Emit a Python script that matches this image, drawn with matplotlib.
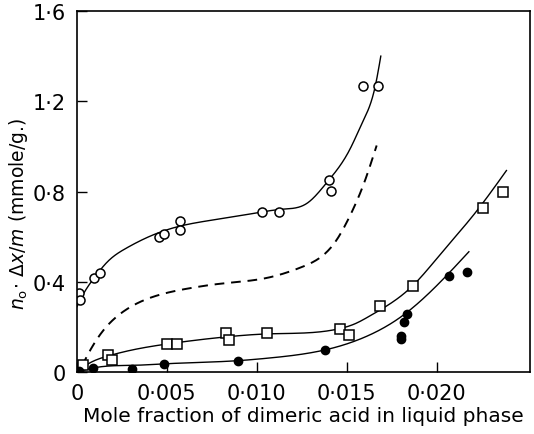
import numpy as np
import matplotlib
matplotlib.use("Agg")
import matplotlib.pyplot as plt

# ---- data ----
open_x = [0.00011, 0.00017, 0.00094, 0.00128, 0.00456, 0.00483, 0.00572, 0.00572,
          0.01028, 0.01122, 0.0140, 0.01411, 0.0159, 0.01672]
open_y = [0.351, 0.32, 0.418, 0.44, 0.600, 0.613, 0.671, 0.631,
          0.711, 0.711, 0.849, 0.804, 1.267, 1.267]

sq_x = [0.00033, 0.00172, 0.00194, 0.005, 0.00556, 0.00828, 0.00844, 0.01056,
        0.01461, 0.01511, 0.01683, 0.01867, 0.02256, 0.02372]
sq_y = [0.031, 0.076, 0.053, 0.124, 0.124, 0.173, 0.142, 0.173,
        0.191, 0.164, 0.293, 0.382, 0.729, 0.796]

fill_x = [0.0001, 0.00089, 0.00306, 0.00483, 0.00894, 0.01378, 0.018, 0.018,
          0.01817, 0.01833, 0.02067, 0.02167]
fill_y = [0.003, 0.018, 0.013, 0.036, 0.049, 0.098, 0.16, 0.147,
          0.222, 0.258, 0.427, 0.444]

# smooth curves (knots)
open_cx = [0.0, 0.0003, 0.001, 0.0017, 0.0027, 0.0036, 0.0047, 0.0058, 0.0071,
           0.0096, 0.0115, 0.0128, 0.0139, 0.0152, 0.0159, 0.0166, 0.0169]
open_cy = [0.29, 0.338, 0.422, 0.489, 0.547, 0.585, 0.622, 0.648, 0.668,
           0.700, 0.722, 0.748, 0.84, 0.99, 1.11, 1.27, 1.40]

dash_cx = [0.00028, 0.00056, 0.00144, 0.00256, 0.00422, 0.0061, 0.00794, 0.01056,
           0.01256, 0.01367, 0.01444, 0.01517, 0.016, 0.01667]
dash_cy = [0.027, 0.071, 0.182, 0.267, 0.333, 0.369, 0.391, 0.417,
           0.467, 0.516, 0.585, 0.69, 0.844, 1.004]

sq_cx = [0.0, 0.00044, 0.00172, 0.00333, 0.005, 0.00833, 0.01064, 0.0146,
         0.0155, 0.0163, 0.01867, 0.02033, 0.0221, 0.02389]
sq_cy = [0.0, 0.027, 0.071, 0.102, 0.124, 0.156, 0.169, 0.192,
         0.215, 0.249, 0.382, 0.533, 0.70, 0.893]

fill_cx = [0.0, 0.0009, 0.0033, 0.0048, 0.0089, 0.0107, 0.0138, 0.0163,
           0.0181, 0.0200, 0.0218]
fill_cy = [0.0, 0.018, 0.030, 0.036, 0.050, 0.062, 0.098, 0.165,
           0.249, 0.382, 0.533]

xticks = [0, 0.005, 0.010, 0.015, 0.020]
xticklabels = ["0", "0·005", "0·010", "0·015", "0·020"]
yticks = [0, 0.4, 0.8, 1.2, 1.6]
yticklabels = ["0", "0·4", "0·8", "1·2", "1·6"]


def natural_spline(x, y, n=400):
    x = np.asarray(x, float)
    y = np.asarray(y, float)
    k = len(x)
    h = np.diff(x)
    A = np.zeros((k, k))
    r = np.zeros(k)
    A[0, 0] = 1.0
    A[-1, -1] = 1.0
    for i in range(1, k - 1):
        A[i, i - 1] = h[i - 1]
        A[i, i] = 2 * (h[i - 1] + h[i])
        A[i, i + 1] = h[i]
        r[i] = 6 * ((y[i + 1] - y[i]) / h[i] - (y[i] - y[i - 1]) / h[i - 1])
    M = np.linalg.solve(A, r)
    xs = np.linspace(x[0], x[-1], n)
    idx = np.clip(np.searchsorted(x, xs) - 1, 0, k - 2)
    a = x[idx + 1] - xs
    b = xs - x[idx]
    hh = h[idx]
    ys = (M[idx] * a**3 / (6 * hh) + M[idx + 1] * b**3 / (6 * hh)
          + (y[idx] / hh - M[idx] * hh / 6) * a
          + (y[idx + 1] / hh - M[idx + 1] * hh / 6) * b)
    return xs, ys


fig = plt.figure(figsize=(5.34, 4.35), dpi=100)
ax = fig.add_axes([0.1442, 0.1425, 0.8483, 0.8299])

for cx, cy in [(open_cx, open_cy), (sq_cx, sq_cy), (fill_cx, fill_cy)]:
    xs, ys = natural_spline(cx, cy)
    ax.plot(xs, ys, color="black", lw=1.0)
xs, ys = natural_spline(dash_cx, dash_cy)
ax.plot(xs, ys, color="black", lw=1.4, ls=(0, (5, 3.5)))

ax.plot(open_x, open_y, ls="none", marker="o", ms=6.5, mfc="white", mec="black", mew=1.1)
ax.plot(sq_x, sq_y, ls="none", marker="s", ms=7, mfc="white", mec="black", mew=1.1)
ax.plot(fill_x, fill_y, ls="none", marker="o", ms=6, mfc="black", mec="black")

ax.set_xlim(0, 0.0252)
ax.set_ylim(0, 1.6)
ax.set_xticks(xticks)
ax.set_xticklabels(xticklabels)
ax.set_yticks(yticks)
ax.set_yticklabels(yticklabels)
ax.tick_params(direction="in", length=7, width=1, labelsize=15, pad=8)
for s in ax.spines.values():
    s.set_linewidth(1.2)

ax.set_xlabel("Mole fraction of dimeric acid in liquid phase", fontsize=14.5)
ax.xaxis.set_label_coords(0.5, -0.095)
ax.set_ylabel(r"$n_{\rm o}\!\cdot\,\Delta x/m$ (mmole/g.)", fontsize=13.5)
ax.yaxis.set_label_coords(-0.104, 0.44)

fig.savefig("out.png", dpi=100)
